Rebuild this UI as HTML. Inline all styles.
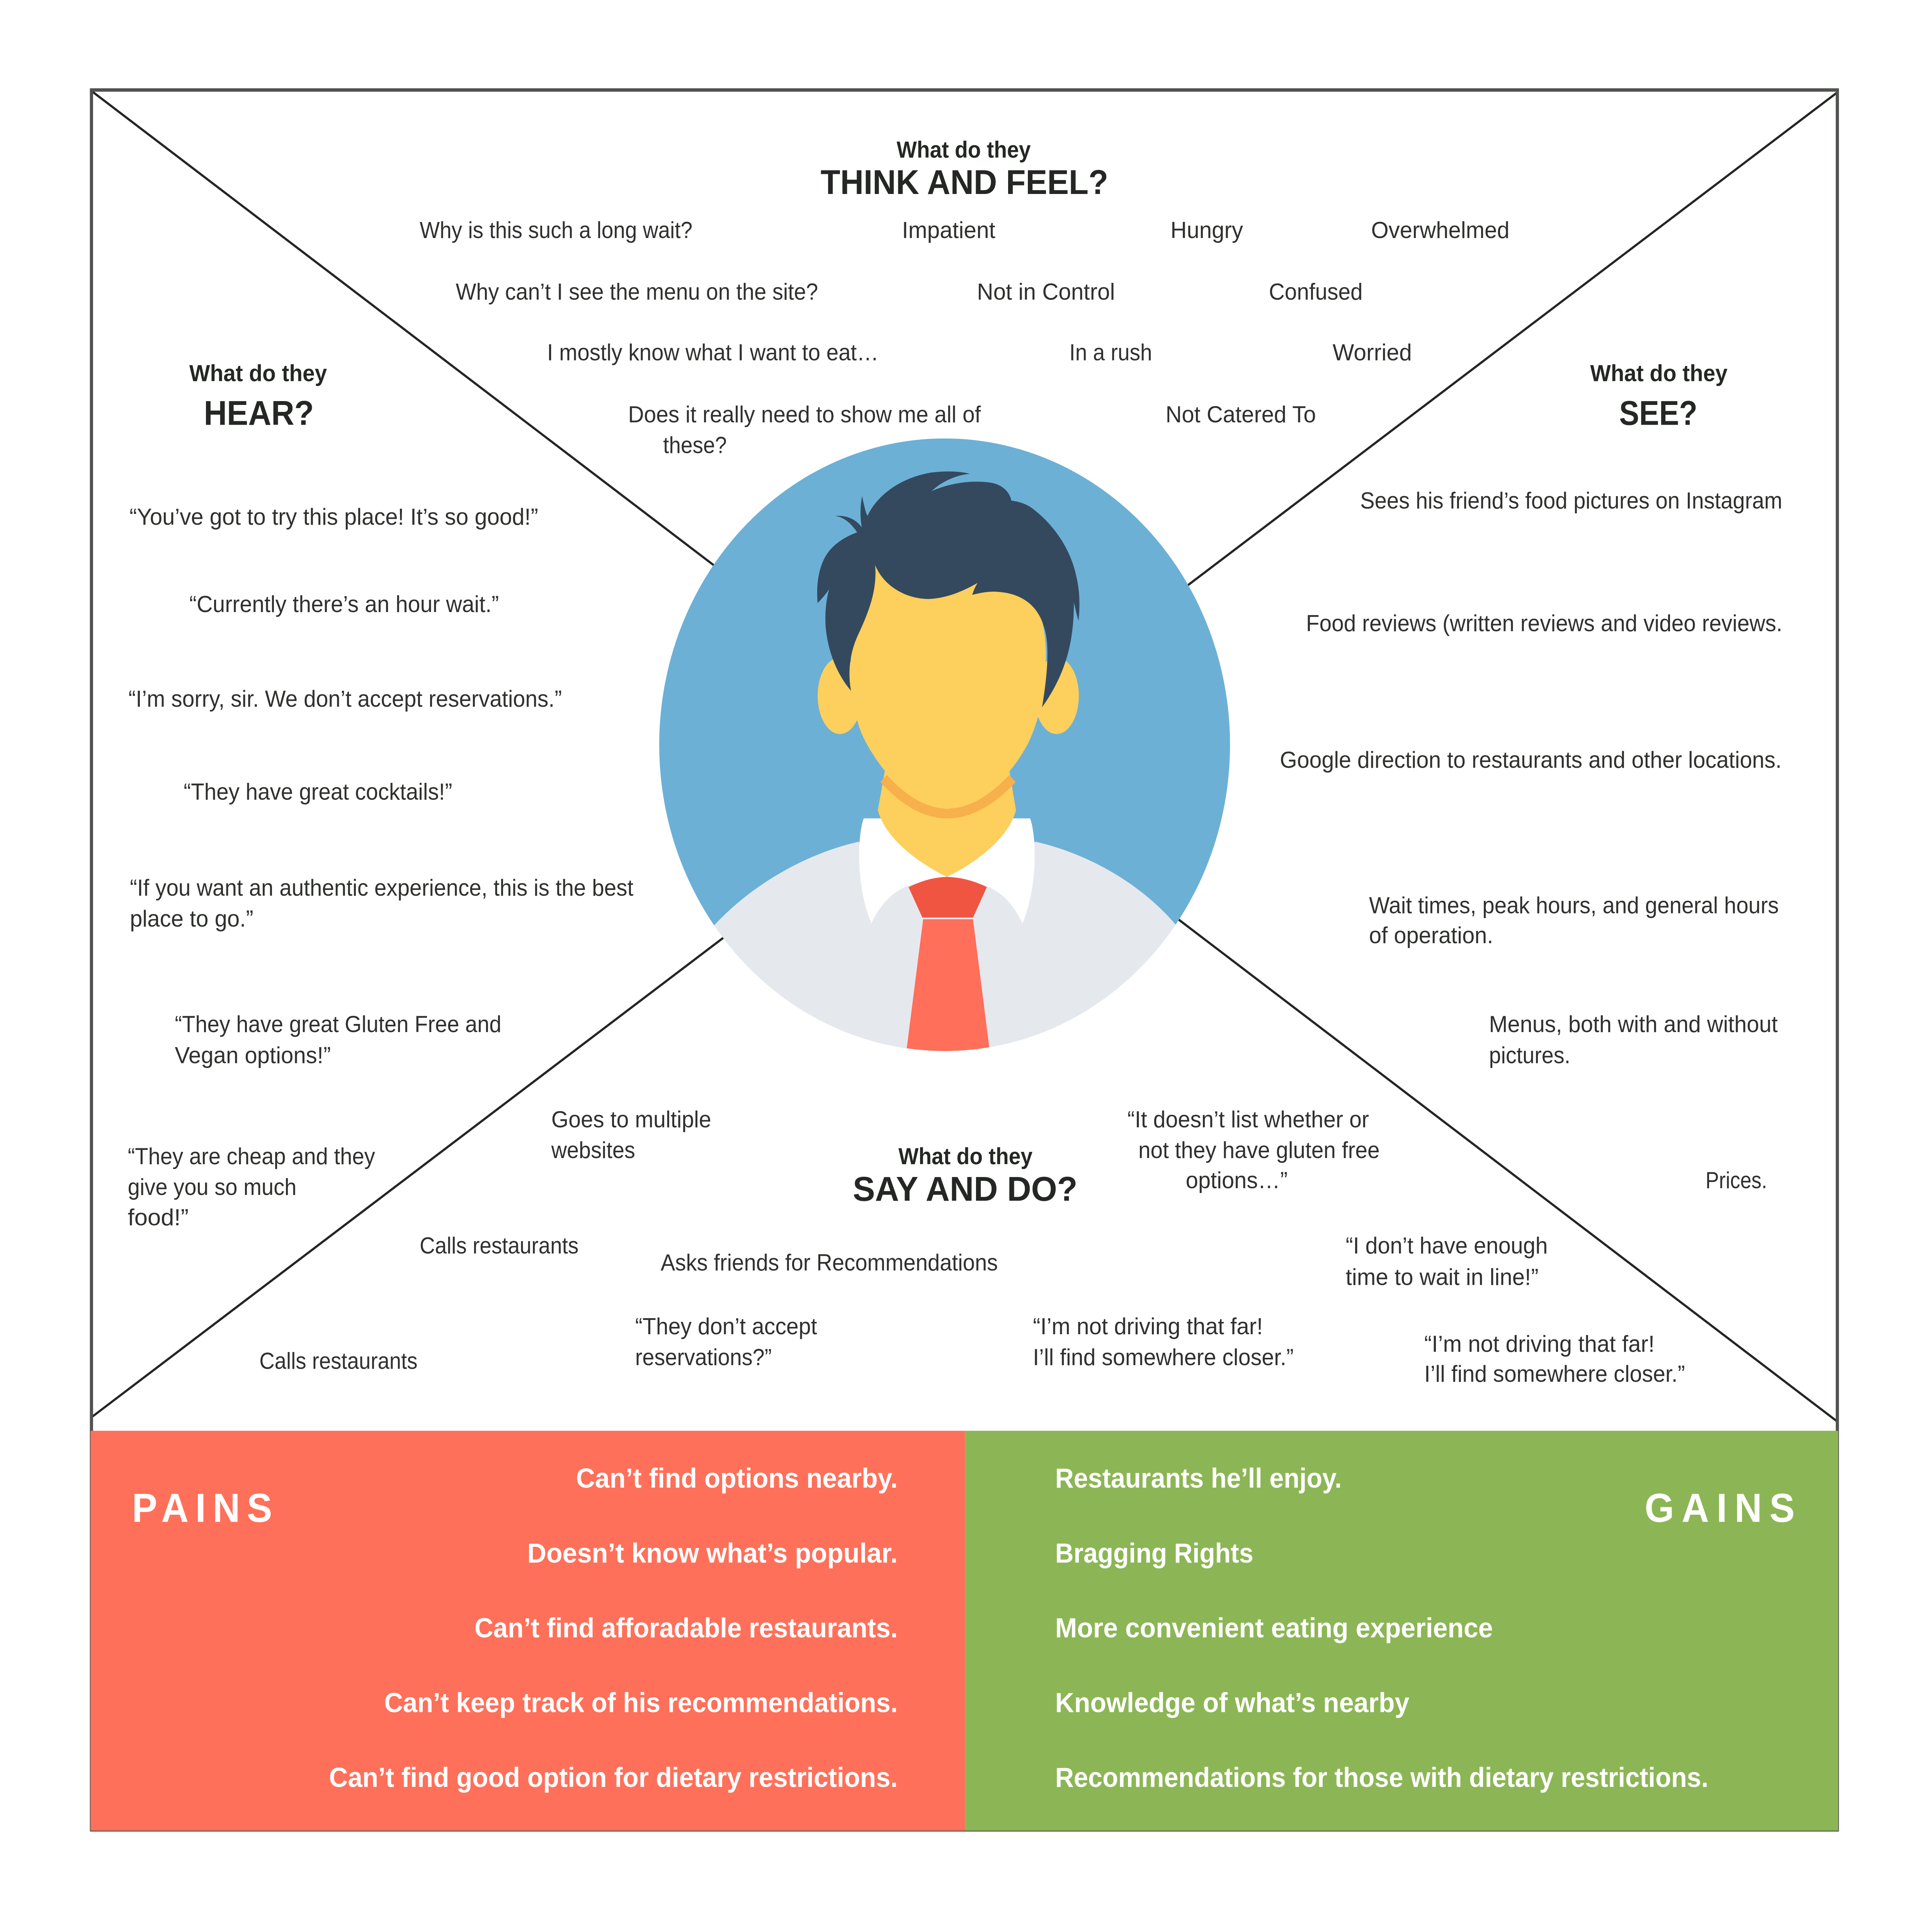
<!DOCTYPE html>
<html>
<head>
<meta charset="utf-8">
<style>
  html, body { margin:0; padding:0; background:#ffffff; width:100%; height:100%; overflow:hidden; }
  svg { display:block; width:100vw; height:100vh; }
  .b { font-family:"Liberation Sans", Arial, sans-serif; font-size:61px; fill:#2f312e; }
  .h1 { font-family:"Liberation Sans", Arial, sans-serif; font-weight:700; font-size:61px; fill:#242724; }
  .h2 { font-family:"Liberation Sans", Arial, sans-serif; font-weight:700; font-size:91px; fill:#242724; }
  .w { font-family:"Liberation Sans", Arial, sans-serif; font-weight:700; font-size:73px; fill:#ffffff; }
  .big { font-family:"Liberation Sans", Arial, sans-serif; font-weight:700; font-size:107px; fill:#ffffff; }
</style>
</head>
<body>
<svg viewBox="0 0 5460 5088" preserveAspectRatio="none" xmlns="http://www.w3.org/2000/svg">
  <defs>
    <clipPath id="cc" clipPathUnits="userSpaceOnUse">
      <circle cx="756" cy="776" r="744"/>
    </clipPath>
  </defs>
  <rect x="0" y="0" width="5460" height="5088" fill="#ffffff"/>

  <!-- diagonals -->
  <line x1="262" y1="242" x2="5190" y2="3742" stroke="#232623" stroke-width="6"/>
  <line x1="5190" y1="245" x2="262" y2="3730" stroke="#232623" stroke-width="6"/>

  <!-- outer border -->
  <rect x="258.5" y="237" width="4934" height="4582" fill="none" stroke="#4f524f" stroke-width="9"/>

  <!-- pains / gains -->
  <rect x="256" y="3768" width="2471" height="1053" fill="#ff705a"/>
  <rect x="2727" y="3768" width="2468" height="1053" fill="#8cb655"/>

  <!-- avatar -->
  <g transform="translate(1850 1120) scale(1.0841)">
    <circle cx="756" cy="776" r="744" fill="#6cb0d6"/>
    <g clip-path="url(#cc)">
      <path d="M 155 1215 C 260 1110, 400 1040, 530 1012 L 995 1012 C 1125 1040, 1265 1110, 1360 1215 L 1560 1600 L -50 1600 Z" fill="#e5e9ee"/>
      <path d="M 545 955 C 528 1000, 525 1120, 565 1210 C 600 1140, 650 1115, 700 1110 L 824 1110 C 874 1115, 924 1140, 959 1210 C 999 1120, 996 1000, 979 955 Z" fill="#ffffff"/>
      <path d="M 600 840 L 582 935 C 600 1000, 680 1060, 762 1097 C 844 1060, 924 1000, 942 935 L 925 840 Z" fill="#fdcf5d"/>
      <path d="M 597 858 Q 762 1028 933 858" fill="none" stroke="#f7b04b" stroke-width="24"/>
      <ellipse cx="483" cy="657" rx="58" ry="93" fill="#fdcf5d"/>
      <ellipse cx="1048" cy="657" rx="58" ry="93" fill="#fdcf5d"/>
      <path d="M 575 330 C 540 400, 515 470, 512 560 C 510 650, 520 710, 545 760 C 600 860, 680 925, 762 932 C 845 925, 925 860, 975 770 C 1005 710, 1020 640, 1020 560 C 1020 470, 990 400, 940 360 Z" fill="#fdcf5d"/>
      <path d="M 425 432 C 420 380, 430 330, 460 300 C 480 280, 505 268, 528 260 C 510 235, 490 222, 470 220 C 500 218, 525 228, 540 248 C 535 220, 536 195, 541 172 C 548 205, 552 215, 555 220 C 580 170, 640 128, 720 115 C 760 110, 800 112, 822 118 C 790 120, 750 135, 722 160 C 770 140, 830 132, 880 140 C 905 145, 925 160, 930 183 C 950 185, 970 192, 982 200 C 1040 240, 1085 300, 1100 370 C 1110 410, 1108 450, 1105 475 C 1100 460, 1097 445, 1093 430 C 1093 520, 1075 600, 1010 685 C 1025 600, 1030 530, 1015 490 C 1000 440, 960 410, 900 405 C 870 402, 845 408, 828 412 C 832 400, 836 392, 842 383 C 800 405, 760 420, 715 422 C 660 422, 600 395, 575 340 C 580 400, 560 450, 530 510 C 505 560, 505 610, 512 645 C 480 610, 455 560, 447 500 C 442 460, 448 420, 455 398 C 445 412, 435 422, 425 432 Z" fill="#34495e"/>
      <path d="M 662 1122 C 700 1105, 730 1098, 762 1097 C 795 1098, 830 1105, 866 1122 L 830 1196 L 698 1196 Z" fill="#f05542"/>
      <path d="M 700 1200 L 830 1200 L 875 1530 L 655 1530 Z" fill="#ff6f5a"/>
    </g>
  </g>

  <!-- THINK AND FEEL -->
  <text class="h1" x="2534" y="415" textLength="379" lengthAdjust="spacingAndGlyphs">What do they</text>
  <text class="h2" x="2319" y="511" textLength="813" lengthAdjust="spacingAndGlyphs">THINK AND FEEL?</text>

  <text class="b" x="1186" y="627" textLength="771" lengthAdjust="spacingAndGlyphs">Why is this such a long wait?</text>
  <text class="b" x="2549" y="627" textLength="264" lengthAdjust="spacingAndGlyphs">Impatient</text>
  <text class="b" x="3308" y="627" textLength="205" lengthAdjust="spacingAndGlyphs">Hungry</text>
  <text class="b" x="3875" y="627" textLength="391" lengthAdjust="spacingAndGlyphs">Overwhelmed</text>

  <text class="b" x="1288" y="789" textLength="1024" lengthAdjust="spacingAndGlyphs">Why can’t I see the menu on the site?</text>
  <text class="b" x="2761" y="789" textLength="390" lengthAdjust="spacingAndGlyphs">Not in Control</text>
  <text class="b" x="3586" y="789" textLength="265" lengthAdjust="spacingAndGlyphs">Confused</text>

  <text class="b" x="1546" y="949" textLength="937" lengthAdjust="spacingAndGlyphs">I mostly know what I want to eat…</text>
  <text class="b" x="3022" y="949" textLength="234" lengthAdjust="spacingAndGlyphs">In a rush</text>
  <text class="b" x="3766" y="949" textLength="224" lengthAdjust="spacingAndGlyphs">Worried</text>

  <text class="b" x="1775" y="1112" textLength="997" lengthAdjust="spacingAndGlyphs">Does it really need to show me all of</text>
  <text class="b" x="1874" y="1193" textLength="180" lengthAdjust="spacingAndGlyphs">these?</text>
  <text class="b" x="3294" y="1112" textLength="425" lengthAdjust="spacingAndGlyphs">Not Catered To</text>

  <!-- HEAR -->
  <text class="h1" x="535" y="1004" textLength="389" lengthAdjust="spacingAndGlyphs">What do they</text>
  <text class="h2" x="576" y="1119" textLength="311" lengthAdjust="spacingAndGlyphs">HEAR?</text>

  <text class="b" x="366" y="1382" textLength="1155" lengthAdjust="spacingAndGlyphs">“You’ve got to try this place! It’s so good!”</text>
  <text class="b" x="535" y="1612" textLength="875" lengthAdjust="spacingAndGlyphs">“Currently there’s an hour wait.”</text>
  <text class="b" x="363" y="1861" textLength="1225" lengthAdjust="spacingAndGlyphs">“I’m sorry, sir. We don’t accept reservations.”</text>
  <text class="b" x="519" y="2106" textLength="759" lengthAdjust="spacingAndGlyphs">“They have great cocktails!”</text>
  <text class="b" x="367" y="2359" textLength="1423" lengthAdjust="spacingAndGlyphs">“If you want an authentic experience, this is the best</text>
  <text class="b" x="367" y="2440" textLength="349" lengthAdjust="spacingAndGlyphs">place to go.”</text>
  <text class="b" x="494" y="2718" textLength="923" lengthAdjust="spacingAndGlyphs">“They have great Gluten Free and</text>
  <text class="b" x="494" y="2800" textLength="441" lengthAdjust="spacingAndGlyphs">Vegan options!”</text>
  <text class="b" x="361" y="3066" textLength="699" lengthAdjust="spacingAndGlyphs">“They are cheap and they</text>
  <text class="b" x="361" y="3147" textLength="477" lengthAdjust="spacingAndGlyphs">give you so much</text>
  <text class="b" x="361" y="3227" textLength="172" lengthAdjust="spacingAndGlyphs">food!”</text>

  <!-- SEE -->
  <text class="h1" x="4494" y="1004" textLength="388" lengthAdjust="spacingAndGlyphs">What do they</text>
  <text class="h2" x="4576" y="1119" textLength="221" lengthAdjust="spacingAndGlyphs">SEE?</text>

  <text class="b" x="3844" y="1339" textLength="1193" lengthAdjust="spacingAndGlyphs">Sees his friend’s food pictures on Instagram</text>
  <text class="b" x="3691" y="1662" textLength="1346" lengthAdjust="spacingAndGlyphs">Food reviews (written reviews and video reviews.</text>
  <text class="b" x="3617" y="2022" textLength="1418" lengthAdjust="spacingAndGlyphs">Google direction to restaurants and other locations.</text>
  <text class="b" x="3869" y="2405" textLength="1158" lengthAdjust="spacingAndGlyphs">Wait times, peak hours, and general hours</text>
  <text class="b" x="3869" y="2484" textLength="351" lengthAdjust="spacingAndGlyphs">of operation.</text>
  <text class="b" x="4208" y="2718" textLength="816" lengthAdjust="spacingAndGlyphs">Menus, both with and without</text>
  <text class="b" x="4208" y="2800" textLength="230" lengthAdjust="spacingAndGlyphs">pictures.</text>
  <text class="b" x="4820" y="3129" textLength="174" lengthAdjust="spacingAndGlyphs">Prices.</text>

  <!-- SAY AND DO -->
  <text class="h1" x="2539" y="3066" textLength="379" lengthAdjust="spacingAndGlyphs">What do they</text>
  <text class="h2" x="2410" y="3162" textLength="635" lengthAdjust="spacingAndGlyphs">SAY AND DO?</text>

  <text class="b" x="1558" y="2969" textLength="452" lengthAdjust="spacingAndGlyphs">Goes to multiple</text>
  <text class="b" x="1558" y="3050" textLength="237" lengthAdjust="spacingAndGlyphs">websites</text>
  <text class="b" x="3186" y="2969" textLength="683" lengthAdjust="spacingAndGlyphs">“It doesn’t list whether or</text>
  <text class="b" x="3217" y="3050" textLength="682" lengthAdjust="spacingAndGlyphs">not they have gluten free</text>
  <text class="b" x="3351" y="3129" textLength="288" lengthAdjust="spacingAndGlyphs">options…”</text>
  <text class="b" x="1186" y="3301" textLength="449" lengthAdjust="spacingAndGlyphs">Calls restaurants</text>
  <text class="b" x="1867" y="3346" textLength="953" lengthAdjust="spacingAndGlyphs">Asks friends for Recommendations</text>
  <text class="b" x="3803" y="3301" textLength="571" lengthAdjust="spacingAndGlyphs">“I don’t have enough</text>
  <text class="b" x="3803" y="3384" textLength="545" lengthAdjust="spacingAndGlyphs">time to wait in line!”</text>
  <text class="b" x="1795" y="3514" textLength="514" lengthAdjust="spacingAndGlyphs">“They don’t accept</text>
  <text class="b" x="1795" y="3595" textLength="386" lengthAdjust="spacingAndGlyphs">reservations?”</text>
  <text class="b" x="2919" y="3514" textLength="650" lengthAdjust="spacingAndGlyphs">“I’m not driving that far!</text>
  <text class="b" x="2919" y="3595" textLength="737" lengthAdjust="spacingAndGlyphs">I’ll find somewhere closer.”</text>
  <text class="b" x="4025" y="3560" textLength="651" lengthAdjust="spacingAndGlyphs">“I’m not driving that far!</text>
  <text class="b" x="4025" y="3639" textLength="737" lengthAdjust="spacingAndGlyphs">I’ll find somewhere closer.”</text>
  <text class="b" x="733" y="3605" textLength="447" lengthAdjust="spacingAndGlyphs">Calls restaurants</text>

  <!-- PAINS -->
  <text class="big" x="373" y="4008" textLength="396" lengthAdjust="spacing">PAINS</text>
  <text class="w" x="1628" y="3918" textLength="909" lengthAdjust="spacingAndGlyphs">Can’t find options nearby.</text>
  <text class="w" x="1490" y="4115" textLength="1047" lengthAdjust="spacingAndGlyphs">Doesn’t know what’s popular.</text>
  <text class="w" x="1341" y="4312" textLength="1196" lengthAdjust="spacingAndGlyphs">Can’t find afforadable restaurants.</text>
  <text class="w" x="1086" y="4509" textLength="1451" lengthAdjust="spacingAndGlyphs">Can’t keep track of his recommendations.</text>
  <text class="w" x="930" y="4706" textLength="1607" lengthAdjust="spacingAndGlyphs">Can’t find good option for dietary restrictions.</text>

  <!-- GAINS -->
  <text class="big" x="4648" y="4008" textLength="424" lengthAdjust="spacing">GAINS</text>
  <text class="w" x="2982" y="3918" textLength="810" lengthAdjust="spacingAndGlyphs">Restaurants he’ll enjoy.</text>
  <text class="w" x="2982" y="4115" textLength="560" lengthAdjust="spacingAndGlyphs">Bragging Rights</text>
  <text class="w" x="2982" y="4312" textLength="1237" lengthAdjust="spacingAndGlyphs">More convenient eating experience</text>
  <text class="w" x="2982" y="4509" textLength="1001" lengthAdjust="spacingAndGlyphs">Knowledge of what’s nearby</text>
  <text class="w" x="2982" y="4706" textLength="1846" lengthAdjust="spacingAndGlyphs">Recommendations for those with dietary restrictions.</text>
</svg>
</body>
</html>
